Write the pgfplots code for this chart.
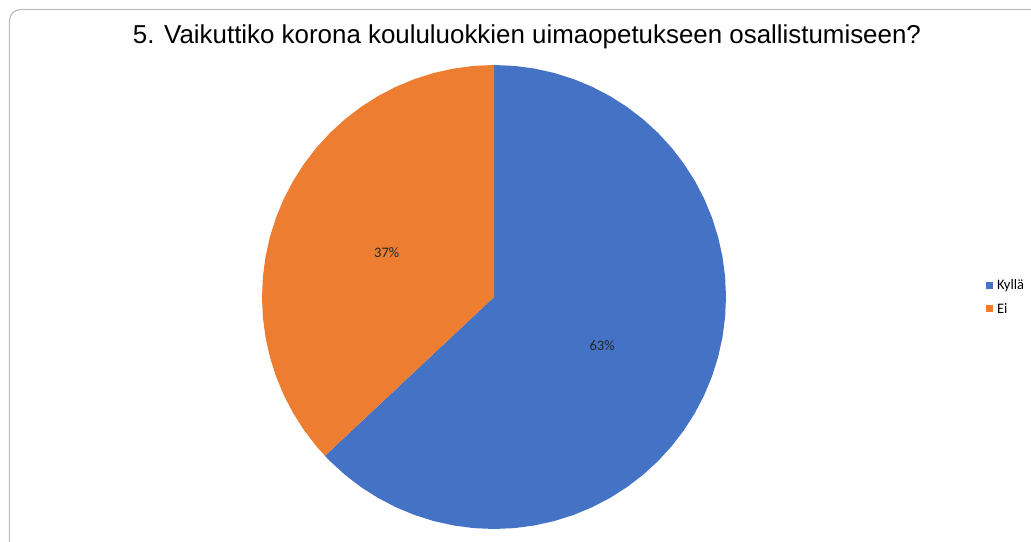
\documentclass[border=0pt]{standalone}
\usepackage{fontspec}
\setmainfont{Carlito}
\newfontfamily\titlefont{Liberation Sans}
\usepackage{pgfplots}
\pgfplotsset{compat=1.18}
\usepgfplotslibrary{polar}
\definecolor{kylla}{HTML}{4472C4}
\definecolor{ei}{HTML}{ED7D31}
\definecolor{frame}{RGB}{190,190,190}
\begin{document}
% 1pt = 1 px of the 1031x541 reference, y downwards is negative
\begin{tikzpicture}
\useasboundingbox (0pt,0pt) rectangle (1031pt,-541pt);
\begin{scope}
\clip (0pt,0pt) rectangle (1031pt,-541pt);
\draw[frame, line width=1.2pt, rounded corners=11pt] (9.5pt,-9.5pt) rectangle (1045pt,-556pt);
\end{scope}
\node[anchor=base, font=\titlefont\fontsize{25.9}{30}\selectfont] at (527pt,-43pt)
  {5. Vaikuttiko korona koululuokkien uimaopetukseen osallistumiseen?};
% shares: Kyllä 63 %, Ei 37 % -> angles 226.8 and 133.2, starting at 90 clockwise
\begin{polaraxis}[
  at={(494pt,-297pt)}, anchor=center,
  width=464pt, height=464pt, scale only axis,
  xmin=0, xmax=360, ymin=0, ymax=1,
  hide axis, clip=false,
  legend style={at={(1.56,0.5)}, anchor=west, draw=none, fill=none,
                font=\fontsize{14.5}{17}\selectfont, row sep=10pt,
                inner sep=0pt, nodes={inner xsep=4pt, inner ysep=1pt}},
  legend cell align=left,
  legend image code/.code={\fill[#1] (0pt,-3.5pt) rectangle (7pt,3.5pt);},
]
\addplot[fill=kylla, draw=none] coordinates {
  (0,0) (90,1) (85,1) (80,1) (75,1) (70,1) (65,1) (60,1) (55,1) (50,1) (45,1)
  (40,1) (35,1) (30,1) (25,1) (20,1) (15,1) (10,1) (5,1) (0,1)
  (355,1) (350,1) (345,1) (340,1) (335,1) (330,1) (325,1) (320,1) (315,1)
  (310,1) (305,1) (300,1) (295,1) (290,1) (285,1) (280,1) (275,1) (270,1)
  (265,1) (260,1) (255,1) (250,1) (245,1) (240,1) (235,1) (230,1) (225,1)
  (223.2,1) (0,0)} -- cycle;
\addlegendentry{Kyllä}
\addplot[fill=ei, draw=none] coordinates {
  (0,0) (223.2,1) (220,1) (215,1) (210,1) (205,1) (200,1) (195,1) (190,1)
  (185,1) (180,1) (175,1) (170,1) (165,1) (160,1) (155,1) (150,1) (145,1)
  (140,1) (135,1) (130,1) (125,1) (120,1) (115,1) (110,1) (105,1) (100,1)
  (95,1) (90,1) (0,0)} -- cycle;
\addlegendentry{Ei}
\addplot[draw=none, mark=none, forget plot, point meta=explicit symbolic,
  nodes near coords, nodes near coords align=center,
  every node near coord/.append style={font=\fontsize{14.5}{17}\selectfont, text=black!85}]
  coordinates {(336.0,0.51) [63\%] (157.6,0.5) [37\%]};
\end{polaraxis}
\end{tikzpicture}
\end{document}
